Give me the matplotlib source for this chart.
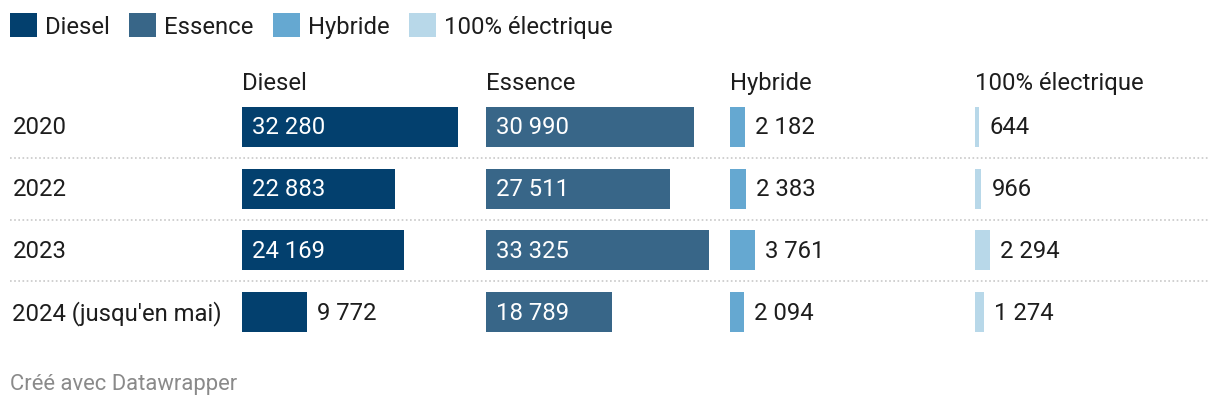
import matplotlib
matplotlib.use("Agg")
import matplotlib.pyplot as plt
from matplotlib.patches import Patch

plt.rcParams['font.family'] = ['Roboto', 'DejaVu Sans']

years = ["2020", "2022", "2023", "2024 (jusqu'en mai)"]
series_names = ["Diesel", "Essence", "Hybride", "100% électrique"]
diesel = [32280, 22883, 24169, 9772]
essence = [30990, 27511, 33325, 18789]
hybride = [2182, 2383, 3761, 2094]
electrique = [644, 966, 2294, 1274]
series_values = [diesel, essence, hybride, electrique]
colors = ["#03406e", "#386688", "#65a8d1", "#b8d8e9"]

W, H = 1220, 410
fig = plt.figure(figsize=(W / 100, H / 100), dpi=100)
fig.patch.set_facecolor("white")

top_px, bot_px = 97, 344
bottom = 1 - bot_px / H
height = (bot_px - top_px) / H
n = len(years)

TEXT = "#1d1d1d"
FS = 17.2

def fmt(v):
    return f"{v:,}".replace(",", " ")

# background axes for separators and row labels
ax_bg = fig.add_axes([10 / W, bottom, 1198 / W, height])
ax_bg.set_xlim(0, 1)
ax_bg.set_ylim(n - 0.5, -0.5)
ax_bg.axis("off")
for i in range(n - 1):
    ax_bg.axhline(i + 0.5, color="#c8c8c8", lw=1.2, ls=(0, (1, 1.5)))
for i, y in enumerate(years):
    ax_bg.text(0.002, i, y, ha="left", va="center", fontsize=FS, color=TEXT)

col_starts = [242, 486, 730, 975]
col_w = 230
xmax = col_w / 0.0067

for k, (name, vals, c) in enumerate(zip(series_names, series_values, colors)):
    ax = fig.add_axes([col_starts[k] / W, bottom, col_w / W, height])
    ax.set_xlim(0, xmax)
    ax.set_ylim(n - 0.5, -0.5)
    ax.axis("off")
    ax.barh(range(n), vals, height=0.648, color=c)
    pad = 10 / col_w * xmax
    for i, v in enumerate(vals):
        if v > 12000:
            ax.text(pad, i, fmt(v), ha="left", va="center", fontsize=FS, color="white")
        else:
            ax.text(v + pad, i, fmt(v), ha="left", va="center", fontsize=FS, color=TEXT)
    ax.text(0, -0.72, name, ha="left", va="center", fontsize=FS, color=TEXT, clip_on=False)

handles = [Patch(facecolor=c, edgecolor="none") for c in colors]
fig.legend(handles, series_names, loc="upper left", bbox_to_anchor=(10 / W, 1 - 14 / H),
           ncol=4, frameon=False, fontsize=FS, handlelength=1.13, handleheight=1.17,
           handletextpad=0.33, columnspacing=0.82, borderaxespad=0, borderpad=0,
           labelcolor=TEXT)

fig.text(10 / W, 1 - 385 / H, "Créé avec Datawrapper", ha="left", va="center",
         fontsize=15.8, color="#8a8a8a")

fig.savefig("out.png", dpi=100, facecolor="white")
